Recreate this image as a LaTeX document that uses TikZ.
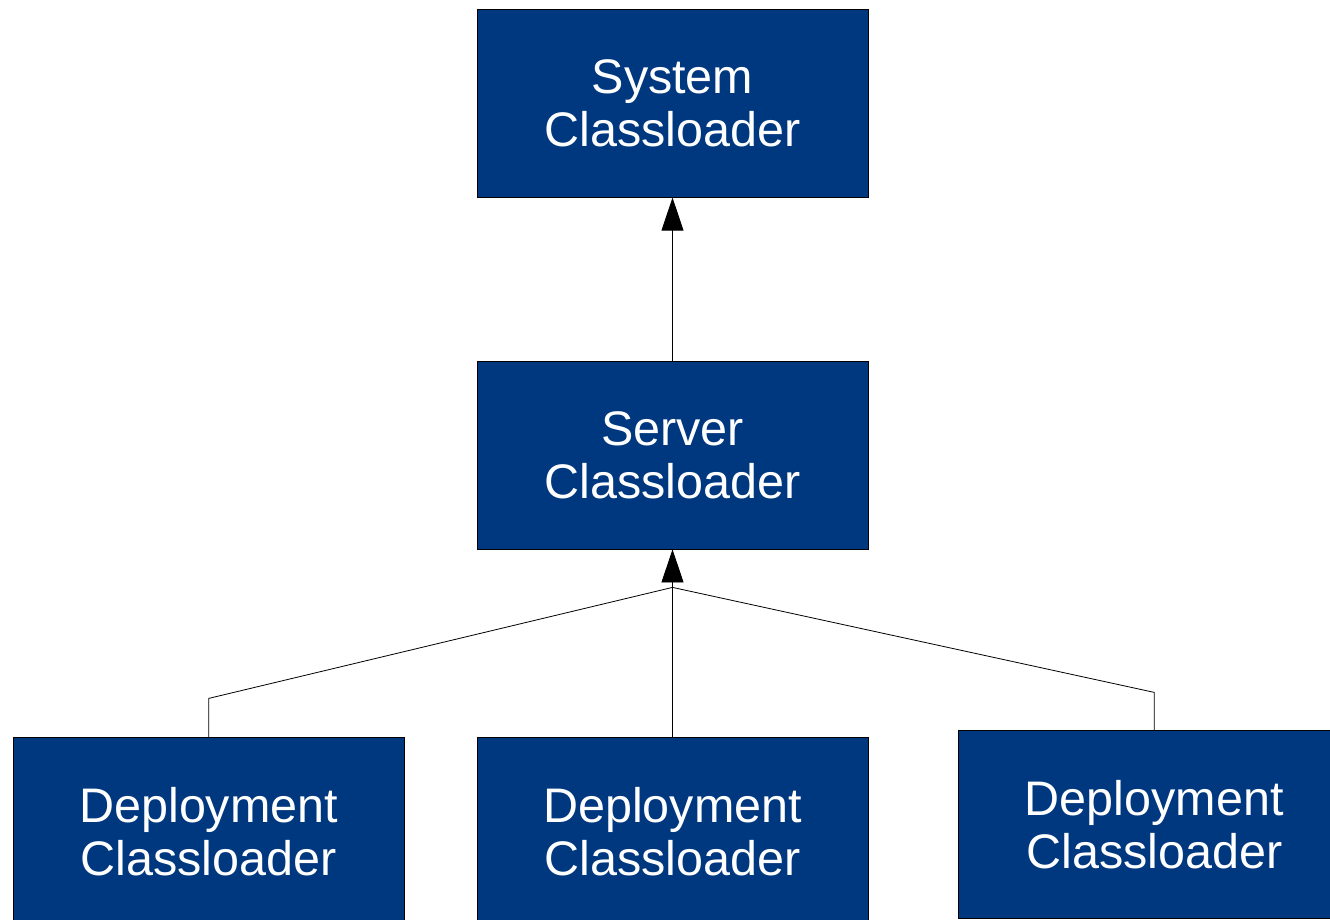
\documentclass[tikz,border=0pt]{standalone}
\usepackage{fontspec}
\setmainfont{Liberation Sans}
\usetikzlibrary{arrows.meta, calc, positioning}
\definecolor{loaderblue}{RGB}{0,56,128}
\tikzstyle{loader} = [rectangle, line width=0.8pt, minimum width=391pt, minimum height=188pt, inner sep=0pt, align=center, draw=black, fill=loaderblue, text=white, font=\fontsize{48.5}{53}\selectfont]
\tikzstyle{link} = [line width=0.8pt]
\tikzstyle{arrow} = [line width=0.8pt,-{Triangle[length=33pt,width=22pt]}]

\begin{document}
\begin{tikzpicture}[x=1pt, y=-1pt, node distance = 163pt]
		\useasboundingbox (0,0) rectangle (1330,920);
		\node (Server) [loader] at (672.5,455) {Server\\Classloader};
		\node (System) [loader, above = of Server] {System\\Classloader};
		\node (DeployMid) [loader, below = 188pt of Server] {Deployment\\Classloader};
		\node (DeployLeft) [loader, left = 72pt of DeployMid] {Deployment\\Classloader};
		\node (DeployRight) [loader, right = 90pt of DeployMid, yshift=7pt] {Deployment\\Classloader};
		\coordinate (Junction) at ($(Server.south)+(0,38)$);
		\coordinate (LeftBend) at ($(DeployLeft.north)+(0,-39)$);
		\coordinate (RightBend) at ($(DeployRight.north)+(0,-38)$);
		\draw [link] (DeployLeft.north) -- (LeftBend) -- (Junction);
		\draw [link] (DeployMid.north) -- (Junction);
		\draw [link] (DeployRight.north) -- (RightBend) -- (Junction);
		\draw [arrow] (Junction) -- (Server.south);
		\draw [arrow] (Server) -- (System);
\end{tikzpicture}
\end{document}
